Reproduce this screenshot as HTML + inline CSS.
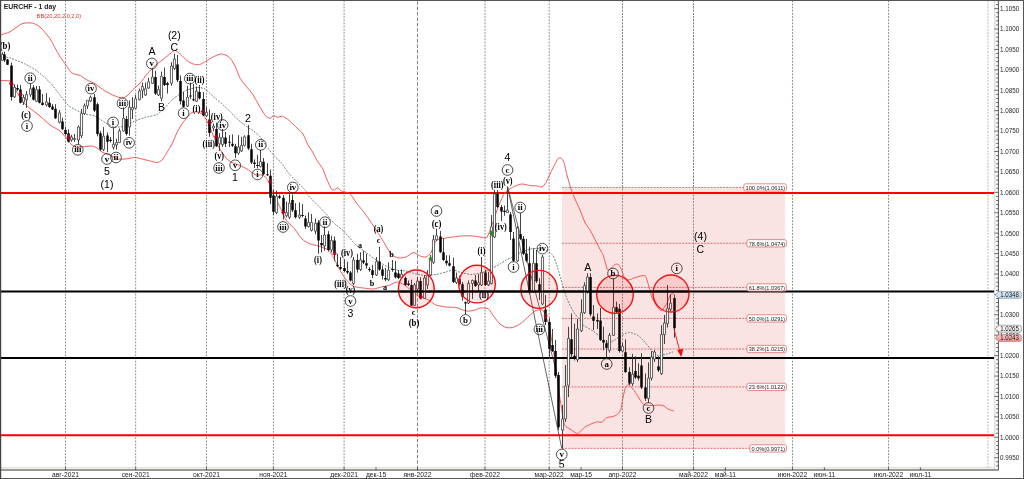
<!DOCTYPE html>
<html><head><meta charset="utf-8"><title>EURCHF - 1 day</title>
<style>html,body{margin:0;padding:0;background:#fff;}body{width:1024px;height:479px;overflow:hidden;font-family:"Liberation Sans",sans-serif;}svg{display:block;}#w{will-change:transform;transform:translateZ(0);width:1024px;height:479px;}</style></head>
<body>
<div id="w">
<svg width="1024" height="479" viewBox="0 0 1024 479">
<rect x="0" y="0" width="1024" height="479" fill="#fff"/>
<defs><clipPath id="cp"><rect x="1" y="1" width="993.5" height="468.3"/></clipPath><linearGradient id="gb" x1="0" y1="0" x2="0" y2="1"><stop offset="0" stop-color="#e6f3fb"/><stop offset="1" stop-color="#b7d6ec"/></linearGradient><linearGradient id="gw" x1="0" y1="0" x2="0" y2="1"><stop offset="0" stop-color="#ffffff"/><stop offset="1" stop-color="#ececec"/></linearGradient><linearGradient id="gr" x1="0" y1="0" x2="0" y2="1"><stop offset="0" stop-color="#fbd2d2"/><stop offset="1" stop-color="#f08c8c"/></linearGradient></defs>
<g stroke="#8a8a8a" stroke-width="1" stroke-dasharray="1.8 1.39" fill="none">
<path d="M65.47 0.2V469"/>
<path d="M135.68 0.2V469"/>
<path d="M206.47 0.2V469"/>
<path d="M273.42 0.2V469"/>
<path d="M344.09 0.2V469"/>
<path d="M417.47 1.3V469" stroke="#808080" stroke-dasharray="3.5 1.9"/>
<path d="M485 0.2V469"/>
<path d="M549.18 0.2V469"/>
<path d="M622.47 0.2V469"/>
<path d="M693.47 0.2V469"/>
<path d="M792.47 0.2V469"/>
<path d="M888.47 0.2V469"/>
</g>
<path d="M987.9 0.2V469" stroke="#c4c8cc" stroke-width="1.3" stroke-dasharray="1.8 1.39" fill="none"/>
<rect x="562" y="187.45" width="223.1" height="260.95" fill="#f9e3e3"/>
<g stroke="#8c8080" stroke-width="1" stroke-dasharray="1.8 1.39" fill="none">
<path d="M622.47 0.2V469"/>
<path d="M693.47 0.2V469"/>
</g>
<g stroke="#dd6464" stroke-width="0.9" stroke-dasharray="2.05 1.11" fill="none">
<path d="M562 187.44H785.1"/>
<path d="M562 243.3H785.1"/>
<path d="M562 287.44H785.1"/>
<path d="M562 318.4H785.1"/>
<path d="M562 349H785.1"/>
<path d="M562 386.9H785.1"/>
<path d="M562 448.4H785.1"/>
</g>
<path d="M1 193.05H994.5" stroke="#ff0000" stroke-width="2.1"/>
<path d="M1 435.3H994.5" stroke="#ff0000" stroke-width="2.1"/>
<path d="M1 291.45H994.5" stroke="#000" stroke-width="1.9"/>
<path d="M1 358H994.5" stroke="#000" stroke-width="1.9"/>
<g clip-path="url(#cp)">
<path d="M507.6 186.9L561.75 448.4" stroke="#333" stroke-width="0.75" fill="none"/>
<path d="M507.6 186.9L556.5 372" stroke="#333" stroke-width="0.7" fill="none"/>
<path d="M0 35C1.11 34.64 7.56 33 10 31.75C12.44 30.5 19.56 24.72 22 23.75C24.44 22.78 30 22.64 32 23C34 23.36 38 25.25 40 27C42 28.75 48.06 35.92 50 38.75C51.94 41.58 55.83 49.72 57.5 52.5C59.17 55.28 63.39 61.47 65 63.75C66.61 66.03 70.33 71.69 72 73C73.67 74.31 78.33 74.72 80 75.5C81.67 76.28 85.33 79.08 87 80C88.67 80.92 93 82.53 95 83.75C97 84.97 102.78 89.64 105 91C107.22 92.36 113.11 95.22 115 96C116.89 96.78 120.67 98 122 98C123.33 98 125.56 97.17 127 96C128.44 94.83 133.56 88.91 135 87.5C136.44 86.09 138.58 84.89 140 83.3C141.42 81.71 146.07 75.2 147.8 73.2C149.53 71.2 153.86 66.88 155.6 65.3C157.34 63.72 161.76 60.39 163.5 59C165.24 57.61 170 53.74 171.3 52.8C172.6 51.86 174.16 50.32 175.2 50.5C176.24 50.68 179.39 53.28 180.7 54.4C182.01 55.52 185.61 59.53 187 60.6C188.39 61.67 191.81 63.56 193.2 64C194.59 64.44 198.11 64.89 199.5 64.6C200.89 64.31 204.31 62.19 205.7 61.4C207.09 60.61 210.61 58.24 212 57.5C213.39 56.76 217.16 55.09 218.2 54.7C219.24 54.31 220.53 53.94 221.4 54C222.27 54.06 224.96 54.64 226 55.2C227.04 55.76 229.74 57.69 230.8 59C231.86 60.31 234.46 64.82 235.5 67C236.54 69.18 238.99 76.43 240.2 78.6C241.41 80.77 245.01 84.76 246.4 86.5C247.79 88.24 251.3 92.21 252.7 94.3C254.1 96.39 257.61 102.96 259 105.3C260.39 107.64 263.98 113.93 265.2 115.4C266.42 116.87 269.08 118.47 270 118.5C270.92 118.53 272.64 115.83 273.5 115.7C274.36 115.57 276.71 117.24 277.7 117.3C278.69 117.36 281.18 115.9 282.4 116.2C283.62 116.5 287.08 118.69 288.7 120C290.32 121.31 295.41 126.44 297 128C298.59 129.56 301.78 132.11 303 134C304.22 135.89 307 143.11 308 145C309 146.89 310.97 149.22 312 151C313.03 152.78 316.1 159.02 317.3 161C318.5 162.98 321.76 166.8 322.8 168.8C323.84 170.8 325.74 176.76 326.7 179C327.66 181.24 330.53 187.78 331.4 189C332.27 190.22 333.81 190.12 334.5 190C335.19 189.88 336.82 187.79 337.6 187.9C338.38 188.01 340.12 190.34 341.5 191C342.88 191.66 348.34 192.47 350 193.8C351.66 195.13 354.82 200.91 356.4 203C357.98 205.09 362.38 210.16 364.2 212.6C366.02 215.04 371.49 223.07 372.8 225C374.11 226.93 375.09 228.61 376 230C376.91 231.39 379.89 235.72 381 237.5C382.11 239.28 384.78 244.06 386 246C387.22 247.94 390.61 253.67 392 255C393.39 256.33 396.94 257.78 398.5 258C400.06 258.22 404.33 257.61 406 257C407.67 256.39 411.94 252.61 413.5 252.5C415.06 252.39 418.61 255.5 420 256C421.39 256.5 424.78 257.39 426 257C427.22 256.61 430.11 253.83 431 252.5C431.89 251.17 433.33 246.39 434 245C434.67 243.61 435.67 240.78 437 240C438.33 239.22 443.33 238.44 446 238C448.67 237.56 457.94 236.22 461 236C464.06 235.78 470.72 235.78 473.5 236C476.28 236.22 484.39 238.11 486 238C487.61 237.89 487.44 236.11 488 235C488.56 233.89 490.22 230.11 491 228C491.78 225.89 494 218.83 495 216C496 213.17 498.89 205.11 500 202.5C501.11 199.89 503.89 194 505 192.5C506.11 191 508.89 189.72 510 189C511.11 188.28 513.67 186.56 515 186C516.33 185.44 520.33 184.06 522 184C523.67 183.94 528.33 185.28 530 185.5C531.67 185.72 535.67 185.83 537 186C538.33 186.17 541 187.39 542 187C543 186.61 545.11 183.94 546 182.5C546.89 181.06 549 176.06 550 174C551 171.94 554.11 165.72 555 164C555.89 162.28 557.33 159.17 558 158.5C558.67 157.83 560.33 157.56 561 158C561.67 158.44 563.33 160.61 564 162.5C564.67 164.39 566.22 172.06 567 175C567.78 177.94 570.11 186.33 571 189C571.89 191.67 574 196.67 575 199C576 201.33 578.89 207.39 580 210C581.11 212.61 583.89 220.28 585 222.5C586.11 224.72 589 228.33 590 230C591 231.67 593 235.56 594 237.5C595 239.44 597.99 245.56 599 247.5C600.01 249.44 602.4 253.36 603.1 255C603.8 256.64 604.81 260.68 605.3 262.3C605.79 263.92 606.93 268.87 607.5 269.6C608.07 270.33 609.59 269.47 610.4 268.9C611.21 268.33 613.9 264.99 614.8 264.5C615.7 264.01 617.77 263.93 618.5 264.5C619.23 265.07 620.76 268.22 621.4 269.6C622.04 270.98 623.49 275.76 624.3 276.9C625.11 278.04 627.56 279.81 628.7 279.9C629.84 279.99 633.34 278.11 634.6 277.7C635.86 277.29 639.06 276.43 640 276.2C640.94 275.97 642.48 275.6 643.1 275.6C643.72 275.6 645.02 275.23 645.6 276.2C646.18 277.17 647.64 282.08 648.3 284.3C648.96 286.52 650.81 294.18 651.5 296.2C652.19 298.22 653.78 301.19 654.5 302.5C655.22 303.81 657.24 307.07 658 308C658.76 308.93 660.66 310.9 661.3 310.9C661.94 310.9 663.2 308.82 663.8 308C664.4 307.18 665.96 304.99 666.7 303.5C667.44 302.01 669.71 295.66 670.5 294.6C671.29 293.54 673.43 294.07 673.8 294" stroke="#f04848" stroke-width="0.9" fill="none"/>
<path d="M0 80.5C1.11 80.56 8.44 80.5 10 81C11.56 81.5 13.22 83.72 14 85C14.78 86.28 15.78 90.39 17 92.5C18.22 94.61 23.33 102.06 25 104C26.67 105.94 30.33 108.67 32 110C33.67 111.33 38 114.33 40 116C42 117.67 47.78 123.33 50 125C52.22 126.67 58.11 129.44 60 131C61.89 132.56 65.67 137.44 67 139C68.33 140.56 70.89 144.06 72 145C73.11 145.94 75.89 147.28 77 147.5C78.11 147.72 80.33 147.17 82 147C83.67 146.83 90.33 145.89 92 146C93.67 146.11 95.89 147.33 97 148C98.11 148.67 100.89 151.33 102 152C103.11 152.67 105.89 153.56 107 154C108.11 154.44 110.89 155.44 112 156C113.11 156.56 115.56 158.67 117 159C118.44 159.33 123 159.17 125 159C127 158.83 133.11 157.5 135 157.5C136.89 157.5 140.33 158.61 142 159C143.67 159.39 148.33 160.61 150 161C151.67 161.39 155.67 162.61 157 162.5C158.33 162.39 160.89 161.11 162 160C163.11 158.89 165.89 154.28 167 152.5C168.11 150.72 170.89 146.22 172 144C173.11 141.78 175.89 134.72 177 132.5C178.11 130.28 180.89 125.67 182 124C183.11 122.33 185.89 118.78 187 117.5C188.11 116.22 190.89 113.11 192 112.5C193.11 111.89 195.89 111.83 197 112C198.11 112.17 200.89 113 202 114C203.11 115 205.89 118.94 207 121C208.11 123.06 210.89 129.94 212 132.5C213.11 135.06 215.89 141.78 217 144C218.11 146.22 220.89 150.83 222 152.5C223.11 154.17 225.89 157.89 227 159C228.11 160.11 230.56 161.78 232 162.5C233.44 163.22 238.33 164.78 240 165.5C241.67 166.22 245.67 168.22 247 169C248.33 169.78 251 171.83 252 172.5C253 173.17 254.89 174.72 256 175C257.11 175.28 260.93 174.73 262 175C263.07 175.27 264.76 176.44 265.6 177.4C266.44 178.36 268.72 181.6 269.6 183.6C270.48 185.6 272.54 193.22 273.5 195.4C274.46 197.58 277.16 201.2 278.2 203.2C279.24 205.2 281.94 211.4 282.9 213.4C283.86 215.4 285.62 219.63 286.8 221.2C287.98 222.77 291.81 225.52 293.5 227.5C295.19 229.48 300.17 237.17 302 239C303.83 240.83 308.17 243.22 310 244C311.83 244.78 316.44 245.33 318.5 246C320.56 246.67 326.83 248.72 328.5 250C330.17 251.28 332.39 255.56 333.5 257.5C334.61 259.44 337.39 265.44 338.5 267.5C339.61 269.56 342.22 274.17 343.5 276C344.78 277.83 348.61 282.78 350 284C351.39 285.22 354.5 286.56 356 287C357.5 287.44 361.56 287.78 363.5 288C365.44 288.22 371.56 289.11 373.5 289C375.44 288.89 379.33 287.39 381 287C382.67 286.61 386.94 286 388.5 285.5C390.06 285 393.94 282.89 395 282.5C396.06 282.11 396.96 281.72 398 282C399.04 282.28 403 284.13 404.4 285C405.8 285.87 409.03 288.58 410.6 289.8C412.17 291.02 416.51 294.87 418.5 296C420.49 297.13 426.56 299 428.5 300C430.44 301 434.06 304.22 436 305C437.94 305.78 443.78 306.72 446 307C448.22 307.28 453.78 307.06 456 307.5C458.22 307.94 464.06 310.67 466 311C467.94 311.33 471.83 310.83 473.5 310.5C475.17 310.17 479.33 308.17 481 308C482.67 307.83 487.11 308.11 488.5 309C489.89 309.89 492.22 314.33 493.5 316C494.78 317.67 498.61 322.72 500 324C501.39 325.28 504.61 327.11 506 327.5C507.39 327.89 510.94 327.89 512.5 327.5C514.06 327.11 518.33 325.11 520 324C521.67 322.89 525.83 318.94 527.5 317.5C529.17 316.06 533.33 311.83 535 311C536.67 310.17 541.33 309.44 542.5 310C543.67 310.56 544.78 314.33 545.5 316C546.22 317.67 548.22 321.78 549 325C549.78 328.22 551.72 340.28 552.5 345C553.28 349.72 555.28 362.22 556 367.5C556.72 372.78 558.41 388.14 559 392.5C559.59 396.86 560.8 403.5 561.3 406.7C561.8 409.9 563.01 419.11 563.5 421.3C563.99 423.49 564.81 425.43 565.7 426.4C566.59 427.37 570.2 429.19 571.5 430C572.8 430.81 576.42 433.53 577.4 433.7C578.38 433.87 579.49 432.22 580.3 431.5C581.11 430.78 583.56 428.01 584.7 427.2C585.84 426.39 589.3 424.78 590.6 424.2C591.9 423.62 595.1 422.24 596.4 422C597.7 421.76 601.17 422.48 602.3 422C603.43 421.52 605.41 418.31 606.6 417.7C607.79 417.09 611.78 416.89 613 416.5C614.22 416.11 616.73 414.98 617.6 414.2C618.47 413.42 620.19 411.41 620.8 409.5C621.41 407.59 622.58 399.43 623.1 397C623.62 394.57 624.89 388.97 625.5 387.6C626.11 386.23 627.91 384.7 628.6 384.7C629.29 384.7 630.83 386.59 631.7 387.6C632.57 388.61 635.36 392.24 636.4 393.8C637.44 395.36 640.23 400.38 641.1 401.6C641.97 402.82 642.81 404.36 644.2 404.8C645.59 405.24 652.03 405.58 653.6 405.6C655.17 405.62 657.26 405 658.3 405C659.34 405 661.96 405.19 663 405.6C664.04 406.01 666.83 408.18 667.7 408.7C668.57 409.22 670.1 410.08 670.8 410.3C671.5 410.52 673.64 410.66 674 410.7" stroke="#f04848" stroke-width="0.9" fill="none"/>
<path d="M0 56C1.11 56.22 7.22 57.11 10 58C12.78 58.89 22 62.56 25 64C28 65.44 34.22 68.94 37 71C39.78 73.06 47.44 79.83 50 82.5C52.56 85.17 58 92.5 60 95C62 97.5 66.33 103.39 68 105C69.67 106.61 73.11 108.5 75 109.5C76.89 110.5 82.78 113.28 85 114C87.22 114.72 92.78 115.06 95 116C97.22 116.94 102.78 121.28 105 122.5C107.22 123.72 112.78 126.61 115 127C117.22 127.39 122.78 126.67 125 126C127.22 125.33 132.78 121.94 135 121C137.22 120.06 142.56 118.22 145 117.5C147.44 116.78 154.78 115.61 157 114.5C159.22 113.39 163.33 109.11 165 107.5C166.67 105.89 170.33 101.5 172 100C173.67 98.5 178.33 95.11 180 94C181.67 92.89 185.11 90.72 187 90C188.89 89.28 195 87.61 197 87.5C199 87.39 203 87.83 205 89C207 90.17 213.11 96.33 215 98C216.89 99.67 220.89 103.03 222 104C223.11 104.97 224.11 105.87 225 106.7C225.89 107.53 228.89 110.39 230 111.5C231.11 112.61 233.51 115.29 235 116.7C236.49 118.11 241.36 122.62 243.4 124.2C245.44 125.78 251.54 129.5 253.4 130.9C255.26 132.3 258.61 135.03 260.1 136.8C261.59 138.57 265.13 144.58 266.8 146.8C268.47 149.02 273.52 155.06 275.1 156.8C276.68 158.54 279.46 160.64 281 162.5C282.54 164.36 286.22 170.33 289 173.5C291.78 176.67 303.89 188.57 306 191C308.11 193.43 305.89 193 308 195.4C310.11 197.8 322.44 209.87 325 212.6C327.56 215.33 329.78 218.62 331 220C332.22 221.38 334.61 223.78 336 225C337.39 226.22 341.28 228.78 343.5 231C345.72 233.22 353.5 242.61 356 245C358.5 247.39 363.78 250.83 366 252.5C368.22 254.17 373.78 258.5 376 260C378.22 261.5 383.78 264.89 386 266C388.22 267.11 393.78 269.44 396 270C398.22 270.56 403.78 270.56 406 271C408.22 271.44 413.78 273.5 416 274C418.22 274.5 423.78 275.44 426 275.5C428.22 275.56 433.78 274.89 436 274.5C438.22 274.11 444.06 272.5 446 272C447.94 271.5 451.83 269.94 453.5 270C455.17 270.06 459.06 272 461 272.5C462.94 273 468.78 274.44 471 274.5C473.22 274.56 478.78 273.61 481 273C483.22 272.39 488.89 270 491 269C493.11 268 498.33 265 500 264C501.67 263 504.72 260.72 506 260C507.28 259.28 510.22 258.17 511.5 257.5C512.78 256.83 515.44 254.94 517.5 254C519.56 253.06 527.22 249.56 530 249C532.78 248.44 540 248.33 542.5 249C545 249.67 550.83 252.94 552.5 255C554.17 257.06 556.39 264.17 557.5 267.5C558.61 270.83 561.39 281.39 562.5 285C563.61 288.61 566.22 296.94 567.5 300C568.78 303.06 572.61 310.28 574 312.5C575.39 314.72 578.98 318.59 580 320C581.02 321.41 581.8 324.01 583.2 325.2C584.6 326.39 590.69 329.39 592.6 330.7C594.51 332.01 598.67 335.63 600.4 337C602.13 338.37 606.63 342.67 608.2 343C609.77 343.33 613.1 340.76 614.5 340C615.9 339.24 619.23 337.06 620.8 336.2C622.37 335.34 626.69 332.39 628.6 332.3C630.51 332.21 636.09 334.19 638 335.4C639.91 336.61 644.24 341.47 645.8 343.2C647.36 344.93 650.61 349.61 652 351C653.39 352.39 656.72 355.34 658.3 355.7C659.88 356.06 664.54 354.63 666.2 354.2C667.86 353.77 672.42 352.07 673.2 351.8" stroke="#5b7678" stroke-width="0.9" stroke-dasharray="1.9 1.25" fill="none"/>
<path d="M2.5 52.3V54.5M2.5 60.3V60.5M4.5 51.6V62M7.5 59V65M11.5 62.5V100.5M14.5 84.5V87.4M14.5 96.9V98M17.5 84.5V91M20.5 85V103.5M23.5 94.7V97.6M23.5 102V105M26.5 91V94.7M26.5 99.8V107.9M30.5 83.7V88.9M30.5 94.7V96.9M33.5 85.2V100.5M36.5 86V89.6M36.5 101.3V102M39.5 86V103.5M42.5 94V105.5M46.5 93.2V102M46.5 105V106.4M49.5 97.6V108M52.5 104V110M55.5 104.2V119M59.5 110V112.9M59.5 122.3V123.5M62.5 117.6V130M65.5 127V135M68.5 129.3V142.6M71.5 134.8V137M71.5 140V141.8M74.5 134V138.5M74.5 139.5V141.8M78.5 125.4V127M78.5 140V144M81.5 109V113.6M81.5 135.6V138M84.5 103.5V105.8M84.5 113.6V115M87.5 100.3V100.3M87.5 105.8V109M90.5 95.7V97.2M90.5 101.1V102M94.5 94V112M97.5 102.7V136.3M100.5 131V151M103.5 127V136.3M103.5 149.6V151.2M107.5 132.4V152M110.5 137V142.6M113.5 127.7V144.2M113.5 147.3V149.6M116.5 138.7V142.6M116.5 145V149.6M119.5 128.5V130.9M119.5 142.6V143M123.5 107.4V118.3M123.5 130.9V131.5M126.5 116V135.6M129.5 100.3V107.4M129.5 127V135.6M132.5 97.2V107.4M132.5 109.7V119M135.5 94.9V98.8M135.5 108.2V109M139.5 88.6V91M139.5 99.6V100.5M142.5 82.6V86.5M142.5 90.4V98.2M145.5 82.6V88.8M145.5 95V96M148.5 77.9V81.8M148.5 88V89M152.5 68.5V77M152.5 83.3V84M155.5 70.8V95M158.5 85.7V89.6M158.5 95V96M161.5 71.6V76.3M161.5 98.2V101.3M164.5 67.7V86M167.5 81.8V93.5M171.5 62.2V66M171.5 83.3V85.7M174.5 53.6V59M174.5 68.5V70M177.5 55V82M180.5 75.5V104.5M183.5 92V107.5M187.5 85.7V97.4M187.5 106V107M190.5 82.6V99M193.5 84V101.3M196.5 86.5V91.2M196.5 101.3V102M199.5 85V99.5M203.5 92V116M206.5 106.8V112.3M206.5 115.8V117M209.5 109.4V136.8M213.5 123.5V126M213.5 128V131.3M216.5 122.7V147M219.5 133V137.6M219.5 143.8V150.9M222.5 129V137.6M222.5 144.6V147M225.5 132V147M229.5 135.2V147M232.5 134.4V147M235.5 143.8V158M238.5 135.2V147M238.5 153.2V154.8M241.5 136.8V145.4M241.5 150.9V152M244.5 135.2V136.8M244.5 145.4V146.5M248.5 125V150M251.5 143.8V164M254.5 159.4V168M257.5 154.7V168M260.5 150V161.7M260.5 166.4V167.5M263.5 158V175M267.5 163.3V176M270.5 169.6V204M273.5 190V215M276.5 190.7V196.2M276.5 212.6V214M279.5 194.6V199M283.5 195V219.6M286.5 201.6V212.6M286.5 215.7V217.3M289.5 193V203.2M289.5 217.3V219M292.5 194.6V212M295.5 203.2V218.5M299.5 202.4V215M299.5 217.3V218.9M302.5 204V217.3M305.5 215.5V228.8M308.5 212.3V222.5M308.5 226.4V227.5M311.5 214V222.5M311.5 230.3V231.5M315.5 218.6V223.3M315.5 231.1V234.3M318.5 220V253.8M321.5 235V252.3M324.5 226.4V235M324.5 246V250.7M328.5 231.1V251.5M331.5 235.8V240.5M331.5 249.9V252.3M334.5 236.6V260.9M337.5 253.8V267.1M340.5 257V270M344.5 259.3V272M347.5 261.6V274.2M350.5 271V281.5M353.5 257V260M353.5 283.5V285M357.5 253.8V272.6M360.5 252.3V260M360.5 269.5V271M363.5 250.7V264M366.5 253.8V268.7M369.5 267.1V271.8M372.5 264.8V278M376.5 257V261.6M376.5 275V276M379.5 246.8V271M382.5 265.5V279.6M385.5 267.9V281.2M388.5 262.4V270.2M388.5 279.6V281M392.5 260V271.8M395.5 260.9V278.5M398.5 270.2V279M401.5 269.5V274.2M401.5 277.3V279M405.5 276.5V286M408.5 280.4V286M411.5 279.6V306M414.5 283V285M414.5 305.4V306M417.5 277.3V281M417.5 289V290.6M420.5 277.3V299M424.5 275V278M424.5 298.4V299M427.5 270.2V275.7M427.5 285V289M430.5 255V258.5M430.5 275V276M433.5 235V239.7M433.5 262.4V264M436.5 228.7V235.8M436.5 239.7V241M440.5 231V253M443.5 238.1V261M446.5 255.3V265.5M449.5 255.3V266.5M453.5 257.7V283M456.5 272.6V278M456.5 282.7V284M459.5 275.7V285.5M462.5 282V300.7M465.5 301.5V314M468.5 280.4V283.5M468.5 303V304M472.5 279.6V280.4M472.5 283.5V299M475.5 275V287M478.5 274.2V282.7M478.5 285V291.3M481.5 257V272.6M481.5 285V286M485.5 270V286M488.5 271.8V281.2M488.5 285V286M491.5 215V226.8M491.5 283.5V284.5M494.5 190V193.9M494.5 237V238M497.5 190.2V208M501.5 205V221M504.5 205.6V215.8M507.5 186.6V210.3M507.5 212.5V213M510.5 212V240M513.5 232V262M517.5 226V228M517.5 260.8V262M520.5 213V240M523.5 236V255M526.5 239V262.4M529.5 246.7V294M533.5 248.3V263.2M533.5 291.3V293M536.5 250V283M539.5 278V300M542.5 255V257M542.5 303.9V305M545.5 295V325M549.5 318V359M552.5 329V352M555.5 340V378M558.5 372V430M562.5 405V419M562.5 430V448.4M565.5 365V386M565.5 418.9V422M568.5 326.8V338.5M568.5 385.2V397M571.5 313.5V358M574.5 323.6V360.4M577.5 319V329M577.5 359.6V362M581.5 299.4V312.7M581.5 330.7V332M584.5 282.4V285.7M584.5 312.7V314M587.5 273.3V277M587.5 292.3V293.5M590.5 273.3V316.4M593.5 305V330M597.5 313.5V329M600.5 308V341M603.5 326.8V350.3M606.5 340V359M609.5 333V335.4M609.5 350.3V352.6M613.5 278.5V307.2M613.5 335.4V336M616.5 301.7V313M619.5 304V352.6M622.5 343V346.3M622.5 351V352M625.5 339.3V373M629.5 367.2V385M632.5 353.9V374.3M632.5 383.6V386M635.5 356.3V379M638.5 363.3V380.5M641.5 353.1V389M645.5 373.5V400.9M648.5 362.5V378.2M648.5 398.5V402.9M651.5 351V357M651.5 378.2V380.5M654.5 350V352M654.5 359V362M658.5 356.3V372M661.5 325.2V334.6M661.5 373.5V375M664.5 315V322.9M664.5 334.6V344M667.5 285V308.6M667.5 323.6V327.6M670.5 294.5V303.2M670.5 309.3V311M674.5 294.6V337.7" stroke="#2e2e2e" stroke-width="0.9" fill="none"/>
<path d="M1.45 54.5h2.1v5.8h-2.1zM13.45 87.4h2.1v9.5h-2.1zM22.45 97.6h2.1v4.4h-2.1zM25.45 94.7h2.1v5.1h-2.1zM29.45 88.9h2.1v5.8h-2.1zM35.45 89.6h2.1v11.7h-2.1zM45.45 102h2.1v3h-2.1zM58.45 112.9h2.1v9.4h-2.1zM70.45 137h2.1v3h-2.1zM73.45 138.5h2.1v1h-2.1zM77.45 127h2.1v13h-2.1zM80.45 113.6h2.1v22h-2.1zM83.45 105.8h2.1v7.8h-2.1zM86.45 100.3h2.1v5.5h-2.1zM89.45 97.2h2.1v3.9h-2.1zM102.45 136.3h2.1v13.3h-2.1zM112.45 144.2h2.1v3.1h-2.1zM115.45 142.6h2.1v2.4h-2.1zM118.45 130.9h2.1v11.7h-2.1zM122.45 118.3h2.1v12.6h-2.1zM128.45 107.4h2.1v19.6h-2.1zM131.45 107.4h2.1v2.3h-2.1zM134.45 98.8h2.1v9.4h-2.1zM138.45 91h2.1v8.6h-2.1zM141.45 86.5h2.1v3.9h-2.1zM144.45 88.8h2.1v6.2h-2.1zM147.45 81.8h2.1v6.2h-2.1zM151.45 77h2.1v6.3h-2.1zM157.45 89.6h2.1v5.4h-2.1zM160.45 76.3h2.1v21.9h-2.1zM170.45 66h2.1v17.3h-2.1zM173.45 59h2.1v9.5h-2.1zM186.45 97.4h2.1v8.6h-2.1zM195.45 91.2h2.1v10.1h-2.1zM205.45 112.3h2.1v3.5h-2.1zM212.45 126h2.1v2h-2.1zM218.45 137.6h2.1v6.2h-2.1zM221.45 137.6h2.1v7h-2.1zM237.45 147h2.1v6.2h-2.1zM240.45 145.4h2.1v5.5h-2.1zM243.45 136.8h2.1v8.6h-2.1zM259.45 161.7h2.1v4.7h-2.1zM275.45 196.2h2.1v16.4h-2.1zM285.45 212.6h2.1v3.1h-2.1zM288.45 203.2h2.1v14.1h-2.1zM298.45 215h2.1v2.3h-2.1zM307.45 222.5h2.1v3.9h-2.1zM310.45 222.5h2.1v7.8h-2.1zM314.45 223.3h2.1v7.8h-2.1zM323.45 235h2.1v11h-2.1zM330.45 240.5h2.1v9.4h-2.1zM352.45 260h2.1v23.5h-2.1zM359.45 260h2.1v9.5h-2.1zM375.45 261.6h2.1v13.4h-2.1zM387.45 270.2h2.1v9.4h-2.1zM400.45 274.2h2.1v3.1h-2.1zM413.45 285h2.1v20.4h-2.1zM416.45 281h2.1v8h-2.1zM423.45 278h2.1v20.4h-2.1zM426.45 275.7h2.1v9.3h-2.1zM429.45 258.5h2.1v16.5h-2.1zM432.45 239.7h2.1v22.7h-2.1zM435.45 235.8h2.1v3.9h-2.1zM455.45 278h2.1v4.7h-2.1zM467.45 283.5h2.1v19.5h-2.1zM471.45 280.4h2.1v3.1h-2.1zM477.45 282.7h2.1v2.3h-2.1zM480.45 272.6h2.1v12.4h-2.1zM487.45 281.2h2.1v3.8h-2.1zM490.45 226.8h2.1v56.7h-2.1zM493.45 193.9h2.1v43.1h-2.1zM506.45 210.3h2.1v2.2h-2.1zM516.45 228h2.1v32.8h-2.1zM532.45 263.2h2.1v28.1h-2.1zM541.45 257h2.1v46.9h-2.1zM561.45 419h2.1v11h-2.1zM564.45 386h2.1v32.9h-2.1zM567.45 338.5h2.1v46.7h-2.1zM576.45 329h2.1v30.6h-2.1zM580.45 312.7h2.1v18h-2.1zM583.45 285.7h2.1v27h-2.1zM586.45 277h2.1v15.3h-2.1zM608.45 335.4h2.1v14.9h-2.1zM612.45 307.2h2.1v28.2h-2.1zM621.45 346.3h2.1v4.7h-2.1zM631.45 374.3h2.1v9.3h-2.1zM647.45 378.2h2.1v20.3h-2.1zM650.45 357h2.1v21.2h-2.1zM653.45 352h2.1v7h-2.1zM660.45 334.6h2.1v38.9h-2.1zM663.45 322.9h2.1v11.7h-2.1zM666.45 308.6h2.1v15h-2.1zM669.45 303.2h2.1v6.1h-2.1z" fill="#fff" stroke="#3c3c3c" stroke-width="0.8"/>
<path d="M3.25 54.5h2.5v5.8h-2.5zM6.25 59.6h2.5v5.1h-2.5zM10.25 65.5h2.5v31.4h-2.5zM16.25 88h2.5v1.6h-2.5zM19.25 89.6h2.5v13.1h-2.5zM32.25 87.4h2.5v12.4h-2.5zM38.25 89.6h2.5v13.1h-2.5zM41.25 102.7h2.5v2.3h-2.5zM48.25 102.7h2.5v4.4h-2.5zM51.25 106.4h2.5v3.1h-2.5zM54.25 108.8h2.5v9.5h-2.5zM61.25 121.5h2.5v7.8h-2.5zM64.25 130h2.5v4h-2.5zM67.25 133.2h2.5v8.6h-2.5zM93.25 97.2h2.5v13.3h-2.5zM96.25 104.3h2.5v29.7h-2.5zM99.25 133.2h2.5v16.4h-2.5zM106.25 135.6h2.5v6.2h-2.5zM109.25 139.8h2.5v1.2h-2.5zM125.25 119.1h2.5v14.9h-2.5zM154.25 77h2.5v16.5h-2.5zM163.25 77h2.5v8h-2.5zM166.25 83.3h2.5v1.7h-2.5zM176.25 64.6h2.5v15.6h-2.5zM179.25 81h2.5v20.3h-2.5zM182.25 100.6h2.5v6.2h-2.5zM189.25 95.5h2.5v1h-2.5zM192.25 99.3h2.5v1h-2.5zM198.25 92h2.5v6.2h-2.5zM202.25 99h2.5v16.4h-2.5zM208.25 119.6h2.5v13.3h-2.5zM215.25 129h2.5v17.2h-2.5zM224.25 137.6h2.5v6.2h-2.5zM228.25 141.8h2.5v1h-2.5zM231.25 143.8h2.5v1.9h-2.5zM234.25 146.2h2.5v7h-2.5zM247.25 135.2h2.5v13.3h-2.5zM250.25 149.3h2.5v13.3h-2.5zM253.25 162.5h2.5v1.5h-2.5zM256.25 165h2.5v1h-2.5zM262.25 161.7h2.5v12.6h-2.5zM266.25 174.25h2.5v1h-2.5zM269.25 175.8h2.5v21.9h-2.5zM272.25 195.4h2.5v16.4h-2.5zM278.25 196.2h2.5v1.5h-2.5zM282.25 197.7h2.5v14.9h-2.5zM291.25 200h2.5v10.3h-2.5zM294.25 210.3h2.5v7h-2.5zM301.25 215h2.5v1h-2.5zM304.25 218.6h2.5v7.8h-2.5zM317.25 222.5h2.5v18h-2.5zM320.25 242.9h2.5v2.3h-2.5zM327.25 234.3h2.5v15.6h-2.5zM333.25 240.5h2.5v12.5h-2.5zM336.25 264.8h2.5v1.5h-2.5zM339.25 267h2.5v1.7h-2.5zM343.25 267.9h2.5v3.1h-2.5zM346.25 271h2.5v1.6h-2.5zM349.25 272.6h2.5v7.8h-2.5zM356.25 260h2.5v9.5h-2.5zM362.25 260.4h2.5v2h-2.5zM365.25 263.2h2.5v2.3h-2.5zM368.25 269h2.5v1h-2.5zM371.25 270.2h2.5v4.8h-2.5zM378.25 261.6h2.5v7.9h-2.5zM381.25 269.5h2.5v6.2h-2.5zM384.25 278h2.5v1.6h-2.5zM391.25 269h2.5v1h-2.5zM394.25 272.6h2.5v4.7h-2.5zM397.25 273.4h2.5v4.6h-2.5zM404.25 278h2.5v7h-2.5zM407.25 283.5h2.5v1.5h-2.5zM410.25 285h2.5v20.4h-2.5zM419.25 281h2.5v17.4h-2.5zM439.25 236.6h2.5v15.6h-2.5zM442.25 252.2h2.5v7.8h-2.5zM445.25 260.8h2.5v2.4h-2.5zM448.25 263.2h2.5v2.3h-2.5zM452.25 266.3h2.5v15.7h-2.5zM458.25 278.8h2.5v5.5h-2.5zM461.25 284.3h2.5v12.5h-2.5zM464.25 302.3h2.5v1.2h-2.5zM474.25 280.4h2.5v5.5h-2.5zM484.25 272.6h2.5v12.4h-2.5zM496.25 193.9h2.5v13.1h-2.5zM500.25 207h2.5v4.4h-2.5zM503.25 210.8h2.5v1.2h-2.5zM509.25 214.4h2.5v17.5h-2.5zM512.25 238.5h2.5v22.3h-2.5zM519.25 234h2.5v4.8h-2.5zM522.25 238.8h2.5v15h-2.5zM525.25 253.8h2.5v7h-2.5zM528.25 263.2h2.5v28.8h-2.5zM535.25 263.2h2.5v18h-2.5zM538.25 284.3h2.5v7.7h-2.5zM544.25 309.6h2.5v12.4h-2.5zM548.25 322h2.5v26.7h-2.5zM551.25 345h2.5v6h-2.5zM554.25 351h2.5v24.8h-2.5zM557.25 375h2.5v52.2h-2.5zM570.25 339.3h2.5v14.9h-2.5zM573.25 355.7h2.5v3.2h-2.5zM589.25 277h2.5v37.2h-2.5zM592.25 316.4h2.5v4.4h-2.5zM596.25 320h2.5v1.5h-2.5zM599.25 320.5h2.5v19.5h-2.5zM602.25 340h2.5v2.4h-2.5zM605.25 343.2h2.5v4.8h-2.5zM615.25 307.2h2.5v4.8h-2.5zM618.25 308.8h2.5v42.2h-2.5zM624.25 352.3h2.5v19.6h-2.5zM628.25 371.9h2.5v11.7h-2.5zM634.25 371.1h2.5v6.3h-2.5zM637.25 375.8h2.5v2.4h-2.5zM640.25 365.6h2.5v22h-2.5zM644.25 387.6h2.5v10.9h-2.5zM657.25 366.4h2.5v3.9h-2.5zM673.25 298h2.5v30.3h-2.5z" fill="#000"/>
<path d="M11 80.9v5.6M9 83.7h4M9.9 82.6l2.2 2.2M12.1 82.6l-2.2 2.2" stroke="#b00010" stroke-width="1" fill="none"/>
<path d="M20.5 91.9v5.6M18.5 94.7h4M19.4 93.6l2.2 2.2M21.6 93.6l-2.2 2.2" stroke="#b00010" stroke-width="1" fill="none"/>
<path d="M68.6 134.2v5.6M66.6 137h4M67.5 135.9l2.2 2.2M69.7 135.9l-2.2 2.2" stroke="#b00010" stroke-width="1" fill="none"/>
<path d="M202.8 108.7v5.6M200.8 111.5h4M201.7 110.4l2.2 2.2M203.9 110.4l-2.2 2.2" stroke="#b00010" stroke-width="1" fill="none"/>
<path d="M209.9 119.7v5.6M207.9 122.5h4M208.8 121.4l2.2 2.2M211 121.4l-2.2 2.2" stroke="#b00010" stroke-width="1" fill="none"/>
<path d="M216.1 134v5.6M214.1 136.8h4M215 135.7l2.2 2.2M217.2 135.7l-2.2 2.2" stroke="#b00010" stroke-width="1" fill="none"/>
<path d="M270.3 179.2v5.6M268.3 182h4M269.2 180.9l2.2 2.2M271.4 180.9l-2.2 2.2" stroke="#b00010" stroke-width="1" fill="none"/>
<path d="M283.2 209.8v5.6M281.2 212.6h4M282.1 211.5l2.2 2.2M284.3 211.5l-2.2 2.2" stroke="#b00010" stroke-width="1" fill="none"/>
<path d="M334.6 251v5.6M332.6 253.8h4M333.5 252.7l2.2 2.2M335.7 252.7l-2.2 2.2" stroke="#b00010" stroke-width="1" fill="none"/>
<path d="M420.8 294v5.6M418.8 296.8h4M419.7 295.7l2.2 2.2M421.9 295.7l-2.2 2.2" stroke="#b00010" stroke-width="1" fill="none"/>
<path d="M545.6 313v5.6M543.6 315.8h4M544.5 314.7l2.2 2.2M546.7 314.7l-2.2 2.2" stroke="#b00010" stroke-width="1" fill="none"/>
<path d="M430.7 255.7v5.6M428.7 258.5h4M429.6 257.4l2.2 2.2M431.8 257.4l-2.2 2.2" stroke="#1a8a1a" stroke-width="1" fill="none"/>
<path d="M491.4 230.6v5.6M489.4 233.4h4M490.3 232.3l2.2 2.2M492.5 232.3l-2.2 2.2" stroke="#1a8a1a" stroke-width="1" fill="none"/>
<ellipse cx="416.3" cy="288.9" rx="17.9" ry="18.9" fill="#ff0000" fill-opacity="0.10" stroke="#f01010" stroke-width="1.4"/>
<ellipse cx="477" cy="284.05" rx="18.3" ry="18.85" fill="#ff0000" fill-opacity="0.10" stroke="#f01010" stroke-width="1.4"/>
<ellipse cx="539.1" cy="289.4" rx="18.2" ry="19" fill="#ff0000" fill-opacity="0.10" stroke="#f01010" stroke-width="1.4"/>
<ellipse cx="615" cy="294.4" rx="18.3" ry="19" fill="#ff0000" fill-opacity="0.10" stroke="#f01010" stroke-width="1.4"/>
<ellipse cx="671.05" cy="293.5" rx="18" ry="18.55" fill="#ff0000" fill-opacity="0.10" stroke="#f01010" stroke-width="1.4"/>
<path d="M398 291.45H689.5" stroke="#000" stroke-width="1.9"/>
<path d="M674 329L680.2 352.5" stroke="#ee1010" stroke-width="0.9" fill="none"/>
<path d="M681.3 357L677.2 350.2L683.4 348.6z" fill="#ee1010"/>
<g font-family="'Liberation Sans', sans-serif" font-size="10.5" fill="#000" text-anchor="middle">
<text x="151.9" y="54.85">A</text>
<text x="174.3" y="39.05">(2)</text>
<text x="174.2" y="51.45">C</text>
<text x="161.5" y="111.25">B</text>
<text x="107" y="174.75">5</text>
<text x="107" y="187.75">(1)</text>
<text x="234.8" y="181.05">1</text>
<text x="248" y="122.05">2</text>
<text x="350.5" y="316.75">3</text>
<text x="507.5" y="160.75">4</text>
<text x="700.5" y="240.05">(4)</text>
<text x="700.3" y="252.95">C</text>
<text x="587.7" y="270.55">A</text>
<text x="648.5" y="422.75">B</text>
<text x="561.75" y="468.25">5</text>
</g>
<g font-family="'Liberation Serif', serif" font-weight="bold" font-size="9.4" fill="#000" text-anchor="middle">
<text transform="translate(5 48.75) scale(0.86 1)" font-size="10.2">(b)</text>
<text transform="translate(26 117.75) scale(0.86 1)" font-size="10.2">(c)</text>
<text transform="translate(196.5 111.59) scale(0.86 1)" font-size="9.6">(i)</text>
<text transform="translate(199.5 82.79) scale(0.86 1)" font-size="9.6">(ii)</text>
<text transform="translate(216.8 119.59) scale(0.86 1)" font-size="9.6">(iv)</text>
<text transform="translate(208.8 147.29) scale(0.86 1)" font-size="9.6">(iii)</text>
<text transform="translate(219.2 159.09) scale(0.86 1)" font-size="9.6">(v)</text>
<text transform="translate(318 262.59) scale(0.86 1)" font-size="9.6">(i)</text>
<text transform="translate(347 256.09) scale(0.86 1)" font-size="9.6">(iv)</text>
<text transform="translate(340.5 286.59) scale(0.86 1)" font-size="9.6">(iii)</text>
<text transform="translate(350.5 292.59) scale(0.86 1)" font-size="9.6">(v)</text>
<text x="360" y="248.3" font-size="8.2">a</text>
<text x="372" y="286.3" font-size="8.2">b</text>
<text x="378.5" y="243.3" font-size="8.2">c</text>
<text x="385" y="290.3" font-size="8.2">a</text>
<text x="391.5" y="256.8" font-size="8.2">b</text>
<text transform="translate(378.5 231.89) scale(0.86 1)" font-size="9.6">(a)</text>
<text x="413.5" y="314.8" font-size="8.2">c</text>
<text transform="translate(414 325.75) scale(0.86 1)" font-size="10.2">(b)</text>
<text transform="translate(436.5 226.75) scale(0.86 1)" font-size="10.2">(c)</text>
<text transform="translate(481.5 254.29) scale(0.86 1)" font-size="9.6">(i)</text>
<text transform="translate(484 297.89) scale(0.86 1)" font-size="9.6">(ii)</text>
<text transform="translate(497.3 187.59) scale(0.86 1)" font-size="9.6">(iii)</text>
<text transform="translate(507.8 184.09) scale(0.86 1)" font-size="9.6">(v)</text>
<text transform="translate(500.8 230.29) scale(0.86 1)" font-size="9.6">(iv)</text>
</g>
<g font-family="'Liberation Serif', serif" font-weight="bold" font-size="8.8" fill="#000" text-anchor="middle">
<circle cx="30.2" cy="78.2" r="5.35" fill="none" stroke="#222" stroke-width="0.8"/>
<text x="30.2" y="80.7">ii</text>
<circle cx="27" cy="126" r="5.35" fill="none" stroke="#222" stroke-width="0.8"/>
<text x="27" y="128.5">i</text>
<circle cx="91" cy="88.6" r="5.35" fill="none" stroke="#222" stroke-width="0.8"/>
<text x="91" y="91.1">iv</text>
<circle cx="77.8" cy="149.8" r="5.35" fill="none" stroke="#222" stroke-width="0.8"/>
<text x="77.8" y="152.3">iii</text>
<circle cx="107" cy="159" r="5.35" fill="none" stroke="#222" stroke-width="0.8"/>
<text x="107" y="161.5">v</text>
<circle cx="116" cy="157.5" r="5.35" fill="none" stroke="#222" stroke-width="0.8"/>
<text x="116" y="160">ii</text>
<circle cx="113.1" cy="122.4" r="5.35" fill="none" stroke="#222" stroke-width="0.8"/>
<text x="113.1" y="124.9">i</text>
<circle cx="129.1" cy="142.8" r="5.35" fill="none" stroke="#222" stroke-width="0.8"/>
<text x="129.1" y="145.3">iv</text>
<circle cx="122.5" cy="103.3" r="5.35" fill="none" stroke="#222" stroke-width="0.8"/>
<text x="122.5" y="105.8">iii</text>
<circle cx="151.8" cy="63.5" r="5.35" fill="none" stroke="#222" stroke-width="0.8"/>
<text x="151.8" y="66">v</text>
<circle cx="189.8" cy="78.6" r="5.35" fill="none" stroke="#222" stroke-width="0.8"/>
<text x="189.8" y="81.1">iii</text>
<circle cx="183.6" cy="113.2" r="5.35" fill="none" stroke="#222" stroke-width="0.8"/>
<text x="183.6" y="115.7">i</text>
<circle cx="222.7" cy="125" r="5.35" fill="none" stroke="#222" stroke-width="0.8"/>
<text x="222.7" y="127.5">iv</text>
<circle cx="219" cy="168" r="5.35" fill="none" stroke="#222" stroke-width="0.8"/>
<text x="219" y="170.5">iii</text>
<circle cx="235.2" cy="165.3" r="5.35" fill="none" stroke="#222" stroke-width="0.8"/>
<text x="235.2" y="167.8">v</text>
<circle cx="257.5" cy="174.5" r="5.35" fill="none" stroke="#222" stroke-width="0.8"/>
<text x="257.5" y="177">i</text>
<circle cx="260.8" cy="144.8" r="5.35" fill="none" stroke="#222" stroke-width="0.8"/>
<text x="260.8" y="147.3">ii</text>
<circle cx="292.8" cy="187.5" r="5.35" fill="none" stroke="#222" stroke-width="0.8"/>
<text x="292.8" y="190">iv</text>
<circle cx="283" cy="227" r="5.35" fill="none" stroke="#222" stroke-width="0.8"/>
<text x="283" y="229.5">iii</text>
<circle cx="325" cy="222.2" r="5.35" fill="none" stroke="#222" stroke-width="0.8"/>
<text x="325" y="224.7">ii</text>
<circle cx="350.5" cy="301" r="5.35" fill="none" stroke="#222" stroke-width="0.8"/>
<text x="350.5" y="303.5">v</text>
<circle cx="436.5" cy="211" r="5.35" fill="none" stroke="#222" stroke-width="0.8"/>
<text x="436.5" y="213.5">a</text>
<circle cx="465.5" cy="320" r="5.35" fill="none" stroke="#222" stroke-width="0.8"/>
<text x="465.5" y="322.5">b</text>
<circle cx="507.5" cy="170" r="5.35" fill="none" stroke="#222" stroke-width="0.8"/>
<text x="507.5" y="172.5">c</text>
<circle cx="520.2" cy="207.5" r="5.35" fill="none" stroke="#222" stroke-width="0.8"/>
<text x="520.2" y="210">ii</text>
<circle cx="513.5" cy="267" r="5.35" fill="none" stroke="#222" stroke-width="0.8"/>
<text x="513.5" y="269.5">i</text>
<circle cx="542.4" cy="248.6" r="5.35" fill="none" stroke="#222" stroke-width="0.8"/>
<text x="542.4" y="251.1">iv</text>
<circle cx="539.4" cy="329.4" r="5.35" fill="none" stroke="#222" stroke-width="0.8"/>
<text x="539.4" y="331.9">iii</text>
<circle cx="561.75" cy="454.5" r="5.35" fill="none" stroke="#222" stroke-width="0.8"/>
<text x="561.75" y="457">v</text>
<circle cx="606.7" cy="364" r="5.35" fill="none" stroke="#222" stroke-width="0.8"/>
<text x="606.7" y="366.5">a</text>
<circle cx="613" cy="273.5" r="5.35" fill="none" stroke="#222" stroke-width="0.8"/>
<text x="613" y="276">b</text>
<circle cx="648.5" cy="408" r="5.35" fill="none" stroke="#222" stroke-width="0.8"/>
<text x="648.5" y="410.5">c</text>
<circle cx="676.8" cy="268.4" r="5.35" fill="none" stroke="#222" stroke-width="0.8"/>
<text x="676.8" y="270.9">i</text>
</g>
</g>
<g font-family="'Liberation Sans', sans-serif" font-size="6.1" fill="#222">
<rect x="743.8" y="183.79" width="42.6" height="7.3" rx="1.9" fill="#fff" stroke="#e27c7c" stroke-width="0.9"/>
<text x="745.6" y="189.64" textLength="39.6" lengthAdjust="spacingAndGlyphs">100.0%(1.0611)</text>
<rect x="746.9" y="239.65" width="39.5" height="7.3" rx="1.9" fill="#fff" stroke="#e27c7c" stroke-width="0.9"/>
<text x="748.7" y="245.5" textLength="36.5" lengthAdjust="spacingAndGlyphs">78.6%(1.0474)</text>
<rect x="746.9" y="283.79" width="39.5" height="7.3" rx="1.9" fill="#fff" stroke="#e27c7c" stroke-width="0.9"/>
<text x="748.7" y="289.64" textLength="36.5" lengthAdjust="spacingAndGlyphs">61.8%(1.0367)</text>
<rect x="746.9" y="314.75" width="39.5" height="7.3" rx="1.9" fill="#fff" stroke="#e27c7c" stroke-width="0.9"/>
<text x="748.7" y="320.6" textLength="36.5" lengthAdjust="spacingAndGlyphs">50.0%(1.0291)</text>
<rect x="746.9" y="345.35" width="39.5" height="7.3" rx="1.9" fill="#fff" stroke="#e27c7c" stroke-width="0.9"/>
<text x="748.7" y="351.2" textLength="36.5" lengthAdjust="spacingAndGlyphs">38.2%(1.0215)</text>
<rect x="746.9" y="383.25" width="39.5" height="7.3" rx="1.9" fill="#fff" stroke="#e27c7c" stroke-width="0.9"/>
<text x="748.7" y="389.1" textLength="36.5" lengthAdjust="spacingAndGlyphs">23.6%(1.0122)</text>
<rect x="749.7" y="444.75" width="36.7" height="7.3" rx="1.9" fill="#fff" stroke="#e27c7c" stroke-width="0.9"/>
<text x="751.5" y="450.6" textLength="33.7" lengthAdjust="spacingAndGlyphs">0.0%(0.9971)</text>
</g>
<text x="3.7" y="9" font-family="'Liberation Sans', sans-serif" font-weight="bold" font-size="7.4" fill="#222" textLength="52.4" lengthAdjust="spacingAndGlyphs">EURCHF - 1 day</text>
<text x="36.6" y="18" font-family="'Liberation Sans', sans-serif" font-size="5.7" fill="#f03030">BB(20,20,2.0,2.0)</text>
<path d="M994.7 1V469" stroke="#dcdcd4" stroke-width="1.4"/>
<path d="M1 467.8H994" stroke="#c8ccb8" stroke-width="0.8"/>
<path d="M0 470H998.4" stroke="#333" stroke-width="1"/>
<path d="M998.4 0V470" stroke="#555" stroke-width="1"/>
<rect x="0.5" y="0.5" width="1023" height="478" fill="none" stroke="#555" stroke-width="1"/>
<path d="M0.6 0V479" stroke="#444" stroke-width="1.2"/>
<path d="M996.1 465.88H998.4M996.1 461.8H998.4M994.4 457.71H998.4M996.1 453.63H998.4M996.1 449.55H998.4M996.1 445.47H998.4M996.1 441.38H998.4M994.4 437.3H998.4M996.1 433.22H998.4M996.1 429.13H998.4M996.1 425.05H998.4M996.1 420.97H998.4M994.4 416.89H998.4M996.1 412.8H998.4M996.1 408.72H998.4M996.1 404.64H998.4M996.1 400.55H998.4M994.4 396.47H998.4M996.1 392.39H998.4M996.1 388.31H998.4M996.1 384.22H998.4M996.1 380.14H998.4M994.4 376.06H998.4M996.1 371.98H998.4M996.1 367.89H998.4M996.1 363.81H998.4M996.1 359.73H998.4M994.4 355.64H998.4M996.1 351.56H998.4M996.1 347.48H998.4M996.1 343.4H998.4M996.1 339.31H998.4M994.4 335.23H998.4M996.1 331.15H998.4M996.1 327.06H998.4M996.1 322.98H998.4M996.1 318.9H998.4M994.4 314.82H998.4M996.1 310.73H998.4M996.1 306.65H998.4M996.1 302.57H998.4M996.1 298.48H998.4M994.4 294.4H998.4M996.1 290.32H998.4M996.1 286.24H998.4M996.1 282.15H998.4M996.1 278.07H998.4M994.4 273.99H998.4M996.1 269.91H998.4M996.1 265.82H998.4M996.1 261.74H998.4M996.1 257.66H998.4M994.4 253.57H998.4M996.1 249.49H998.4M996.1 245.41H998.4M996.1 241.33H998.4M996.1 237.24H998.4M994.4 233.16H998.4M996.1 229.08H998.4M996.1 224.99H998.4M996.1 220.91H998.4M996.1 216.83H998.4M994.4 212.75H998.4M996.1 208.66H998.4M996.1 204.58H998.4M996.1 200.5H998.4M996.1 196.41H998.4M994.4 192.33H998.4M996.1 188.25H998.4M996.1 184.17H998.4M996.1 180.08H998.4M996.1 176H998.4M994.4 171.92H998.4M996.1 167.84H998.4M996.1 163.75H998.4M996.1 159.67H998.4M996.1 155.59H998.4M994.4 151.5H998.4M996.1 147.42H998.4M996.1 143.34H998.4M996.1 139.26H998.4M996.1 135.17H998.4M994.4 131.09H998.4M996.1 127.01H998.4M996.1 122.92H998.4M996.1 118.84H998.4M996.1 114.76H998.4M994.4 110.68H998.4M996.1 106.59H998.4M996.1 102.51H998.4M996.1 98.43H998.4M996.1 94.34H998.4M994.4 90.26H998.4M996.1 86.18H998.4M996.1 82.1H998.4M996.1 78.01H998.4M996.1 73.93H998.4M994.4 69.85H998.4M996.1 65.77H998.4M996.1 61.68H998.4M996.1 57.6H998.4M996.1 53.52H998.4M994.4 49.43H998.4M996.1 45.35H998.4M996.1 41.27H998.4M996.1 37.19H998.4M996.1 33.1H998.4M994.4 29.02H998.4M996.1 24.94H998.4M996.1 20.85H998.4M996.1 16.77H998.4M996.1 12.69H998.4M994.4 8.61H998.4M996.1 4.52H998.4" stroke="#444" stroke-width="0.8" fill="none"/>
<g font-family="'Liberation Sans', sans-serif" font-size="6.7" fill="#262626">
<text x="1000.1" y="460.11" textLength="19.2" lengthAdjust="spacingAndGlyphs">0.9950</text>
<text x="1000.1" y="439.7" textLength="19.2" lengthAdjust="spacingAndGlyphs">1.0000</text>
<text x="1000.1" y="419.29" textLength="19.2" lengthAdjust="spacingAndGlyphs">1.0050</text>
<text x="1000.1" y="398.87" textLength="19.2" lengthAdjust="spacingAndGlyphs">1.0100</text>
<text x="1000.1" y="378.46" textLength="19.2" lengthAdjust="spacingAndGlyphs">1.0150</text>
<text x="1000.1" y="358.04" textLength="19.2" lengthAdjust="spacingAndGlyphs">1.0200</text>
<text x="1000.1" y="337.63" textLength="19.2" lengthAdjust="spacingAndGlyphs">1.0250</text>
<text x="1000.1" y="317.22" textLength="19.2" lengthAdjust="spacingAndGlyphs">1.0300</text>
<text x="1000.1" y="296.8" textLength="19.2" lengthAdjust="spacingAndGlyphs">1.0350</text>
<text x="1000.1" y="276.39" textLength="19.2" lengthAdjust="spacingAndGlyphs">1.0400</text>
<text x="1000.1" y="255.97" textLength="19.2" lengthAdjust="spacingAndGlyphs">1.0450</text>
<text x="1000.1" y="235.56" textLength="19.2" lengthAdjust="spacingAndGlyphs">1.0500</text>
<text x="1000.1" y="215.15" textLength="19.2" lengthAdjust="spacingAndGlyphs">1.0550</text>
<text x="1000.1" y="194.73" textLength="19.2" lengthAdjust="spacingAndGlyphs">1.0600</text>
<text x="1000.1" y="174.32" textLength="19.2" lengthAdjust="spacingAndGlyphs">1.0650</text>
<text x="1000.1" y="153.9" textLength="19.2" lengthAdjust="spacingAndGlyphs">1.0700</text>
<text x="1000.1" y="133.49" textLength="19.2" lengthAdjust="spacingAndGlyphs">1.0750</text>
<text x="1000.1" y="113.08" textLength="19.2" lengthAdjust="spacingAndGlyphs">1.0800</text>
<text x="1000.1" y="92.66" textLength="19.2" lengthAdjust="spacingAndGlyphs">1.0850</text>
<text x="1000.1" y="72.25" textLength="19.2" lengthAdjust="spacingAndGlyphs">1.0900</text>
<text x="1000.1" y="51.83" textLength="19.2" lengthAdjust="spacingAndGlyphs">1.0950</text>
<text x="1000.1" y="31.42" textLength="19.2" lengthAdjust="spacingAndGlyphs">1.1000</text>
<text x="1000.1" y="11.01" textLength="19.2" lengthAdjust="spacingAndGlyphs">1.1050</text>
</g>
<path d="M995.2 294.85L999 291.4H1019.6Q1021.3 291.4 1021.3 293.1V296.6Q1021.3 298.3 1019.6 298.3H999z" fill="url(#gb)" stroke="#7f8f9b" stroke-width="0.7"/><text x="1000.3" y="297.25" font-family="'Liberation Sans', sans-serif" font-size="6.7" fill="#111" textLength="18.6" lengthAdjust="spacingAndGlyphs">1.0348</text>
<path d="M995.2 328.7L999 325.25H1019.6Q1021.3 325.25 1021.3 326.95V330.45Q1021.3 332.15 1019.6 332.15H999z" fill="url(#gw)" stroke="#808080" stroke-width="0.7"/><text x="1000.3" y="331.1" font-family="'Liberation Sans', sans-serif" font-size="6.7" fill="#111" textLength="18.6" lengthAdjust="spacingAndGlyphs">1.0265</text>
<path d="M995.2 338L999 334.55H1019.6Q1021.3 334.55 1021.3 336.25V339.75Q1021.3 341.45 1019.6 341.45H999z" fill="url(#gr)" stroke="#b87878" stroke-width="0.7"/><text x="1000.3" y="340.4" font-family="'Liberation Sans', sans-serif" font-size="6.7" fill="#111" textLength="18.6" lengthAdjust="spacingAndGlyphs">1.0243</text>
<path d="M65.47 467.4V470M135.68 467.4V470M206.47 467.4V470M273.42 467.4V470M344.09 467.4V470M376 467.4V470M417.47 467.4V470M485 467.4V470M549.18 467.4V470M581.1 467.4V470M622.47 467.4V470M693.47 467.4V470M725.4 467.4V470M792.47 467.4V470M824.4 467.4V470M888.47 467.4V470M920.4 467.4V470" stroke="#333" stroke-width="0.8" fill="none"/>
<g font-family="'Liberation Sans', sans-serif" font-size="6.7" fill="#222" text-anchor="middle">
<text x="65.47" y="477.1">авг-2021</text>
<text x="135.68" y="477.1">сен-2021</text>
<text x="206.47" y="477.1">окт-2021</text>
<text x="273.42" y="477.1">ноя-2021</text>
<text x="344.09" y="477.1">дек-2021</text>
<text x="376" y="477.1">дек-15</text>
<text x="417.47" y="477.1">янв-2022</text>
<text x="485" y="477.1">фев-2022</text>
<text x="549.18" y="477.1">мар-2022</text>
<text x="581.1" y="477.1">мар-15</text>
<text x="622.47" y="477.1">апр-2022</text>
<text x="693.47" y="477.1">май-2022</text>
<text x="725.4" y="477.1">май-11</text>
<text x="792.47" y="477.1">июн-2022</text>
<text x="824.4" y="477.1">июн-11</text>
<text x="888.47" y="477.1">июл-2022</text>
<text x="920.4" y="477.1">июл-11</text>
</g>
</svg>
</div>
</body></html>
